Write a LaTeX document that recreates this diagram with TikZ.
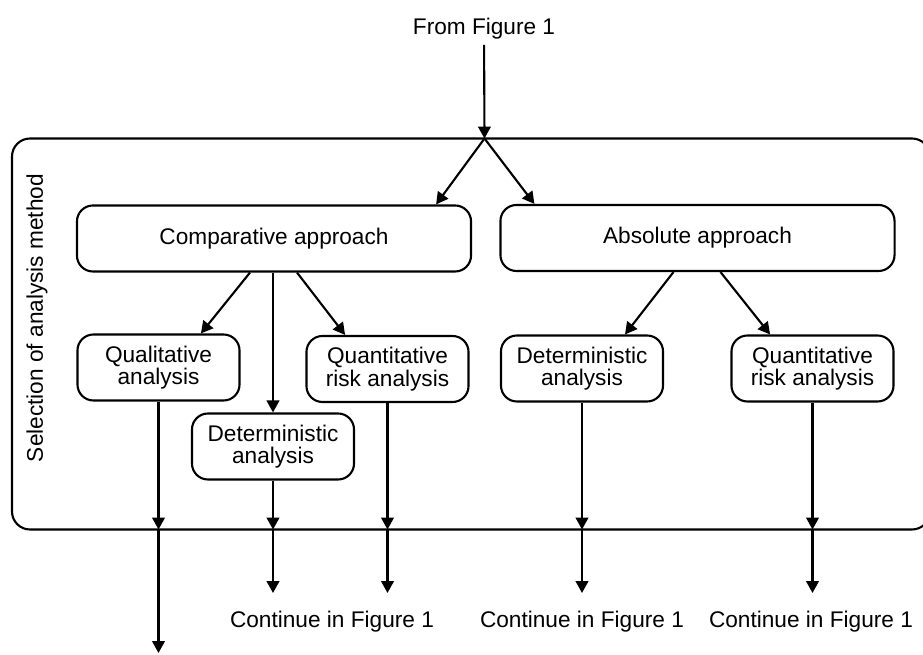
\documentclass[tikz,border=0pt]{standalone}
\usepackage{fontspec}
\setmainfont{Liberation Sans}
\usetikzlibrary{arrows.meta}

\begin{document}
\begin{tikzpicture}[x=0.025cm, y=-0.025cm, line width=1.5pt,
	font=\fontsize{16.1}{16.1}\selectfont,
	box/.style={draw, rounded corners=0.4cm, align=center, minimum width=4.05cm, minimum height=1.65cm, inner sep=0pt},
	bigbox/.style={box, minimum width=9.85cm},
	arr/.style={-{Triangle[length=8.5pt,width=9pt]}}]
			\useasboundingbox (0,0) rectangle (923,655);
			
			% Define nodes
			\node (from) at (484,45) [anchor=south] {From Figure 1};
			\node (comp) at (274,238.5) [bigbox] {Comparative approach};
			\node (abs) at (697.5,238) [bigbox] {Absolute approach};
			\node (qual) at (158.5,367.5) [box] {Qualitative\\analysis};
			\node (detc) at (273,446.5) [box] {Deterministic\\analysis};
			\node (qrac) at (387.5,369) [box] {Quantitative\\risk analysis};
			\node (deta) at (582,368.5) [box] {Deterministic\\analysis};
			\node (qraa) at (812.5,368.5) [box] {Quantitative\\risk analysis};
			
			% Frame round the selection
			\draw[rounded corners=0.45cm] (12,138.5) rectangle (930,529.5);
			\node (sel) at (37,318) [rotate=90] {Selection of analysis method};
			\coordinate (split) at (484.5,138.5);
			\coordinate (fb) at (0,529.5);
			
			% Free ends
			\coordinate (e1) at (158.5,653);
			\coordinate (e2) at (273,593);
			\coordinate (e3) at (387.5,593);
			\coordinate (e4) at (582,593);
			\coordinate (e5) at (812.5,593);
			
			\node (cont1) at (332,622) {Continue in Figure 1};
			\node (cont2) at (582,622) {Continue in Figure 1};
			\node (cont3) at (811,622) {Continue in Figure 1};
			
			% Draw edges
			\draw[arr] (from) -- (split);
			\draw[arr] (split) -- ([xshift=-0.9cm]comp.north east);
			\draw[arr] (split) -- ([xshift=0.875cm]abs.north west);
			
			\draw[arr] ([xshift=-0.6cm]comp.south) -- ([xshift=1.06cm]qual.north);
			\draw[arr] (comp.south -| detc.north) -- (detc.north);
			\draw[arr] ([xshift=0.575cm]comp.south) -- ([xshift=-1.06cm]qrac.north);
			\draw[arr] ([xshift=-0.6cm]abs.south) -- ([xshift=1.075cm]deta.north);
			\draw[arr] ([xshift=0.575cm]abs.south) -- ([xshift=-1.06cm]qraa.north);
			
			\draw[arr] (qual.south) -- (qual.south |- fb);
			\draw[arr] (qual.south |- fb) -- (e1);
			\draw[arr] (detc.south) -- (detc.south |- fb);
			\draw[arr] (detc.south |- fb) -- (e2);
			\draw[arr] (qrac.south) -- (qrac.south |- fb);
			\draw[arr] (qrac.south |- fb) -- (e3);
			\draw[arr] (deta.south) -- (deta.south |- fb);
			\draw[arr] (deta.south |- fb) -- (e4);
			\draw[arr] (qraa.south) -- (qraa.south |- fb);
			\draw[arr] (qraa.south |- fb) -- (e5);
		\end{tikzpicture}
\end{document}
